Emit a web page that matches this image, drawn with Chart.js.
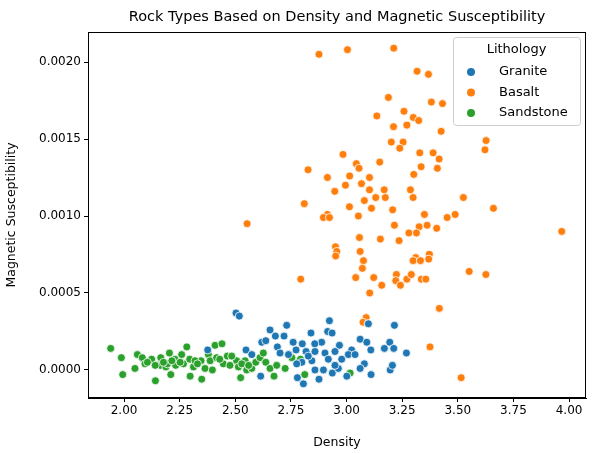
<!DOCTYPE html>
<html><head><meta charset="utf-8">
<script src="https://cdn.jsdelivr.net/npm/chart.js@4/dist/chart.umd.min.js"></script>
<style>html,body{margin:0;padding:0;background:#fff}#c{display:block}</style>
</head><body>
<canvas id="c" width="594" height="454"></canvas>
<script>
const seriesNames = ["Granite","Basalt","Sandstone"];
const seriesColors = ["#1f77b4","#ff7f0e","#2ca02c"];
const graniteX = [2.503,2.518,2.656,2.731,2.680,2.719,2.619,2.637,2.548,2.689,2.760,2.801,2.840,2.888,2.923,2.915,2.935,2.857,2.968,3.098,3.215,3.061,3.091,3.109,3.194,3.170,3.212,3.269,3.023,2.773,2.818,2.858,2.903,2.948,3.008,3.038,2.978,2.844,2.799,2.776,2.858,2.896,2.936,2.963,3.001,3.080,3.061,3.110,3.196,3.206,2.779,2.806,2.876,2.614,2.701,2.739,2.574,2.948,2.828,2.918,2.376];
const graniteY = [0.00037,0.00035,0.00026,0.00029,0.00022,0.00022,0.00018,0.00019,0.00013,0.00015,0.00018,0.00017,0.00024,0.00018,0.00032,0.00025,0.00024,0.00017,0.00016,0.00030,0.00029,0.00020,0.00018,0.00013,0.00018,0.00014,0.00014,0.00011,0.00013,0.00013,0.00012,0.00012,0.00011,0.00012,0.00010,0.00010,0.00007,0.00006,0.00005,0.00004,0.00000,0.00000,-0.00002,0.00001,-0.00004,0.00004,0.00001,-0.00003,0.00000,0.00003,-0.00005,-0.00009,-0.00006,-0.00004,0.00011,0.00010,0.00010,0.00003,0.00009,0.00007,0.00013];
const basaltX = [2.876,3.004,3.212,3.317,3.368,3.188,3.381,3.431,3.136,3.258,3.300,3.324,3.211,3.271,3.425,3.627,3.622,3.201,3.254,3.239,2.984,3.329,3.389,3.416,3.044,3.056,3.149,3.335,3.408,2.827,3.302,2.914,3.014,3.103,3.067,2.995,2.947,3.103,3.169,3.287,3.131,3.174,3.299,3.080,3.525,2.810,3.013,3.112,3.207,3.660,2.914,2.896,2.923,3.053,3.350,3.488,3.452,2.553,3.215,3.326,3.362,3.405,3.280,3.314,3.967,3.058,3.152,3.236,2.950,2.956,2.951,3.061,3.076,3.071,3.311,3.299,3.332,3.372,3.369,3.551,3.626,2.794,3.041,3.122,3.224,3.221,3.271,3.291,3.336,3.356,3.158,3.242,3.104,3.417,3.088,3.074,3.097,3.375,3.515];
const basaltY = [0.00205,0.00208,0.00209,0.00194,0.00192,0.00177,0.00174,0.00173,0.00165,0.00168,0.00164,0.00162,0.00158,0.00159,0.00155,0.00149,0.00143,0.00148,0.00148,0.00144,0.00140,0.00141,0.00141,0.00137,0.00134,0.00131,0.00135,0.00132,0.00131,0.00130,0.00127,0.00125,0.00126,0.00125,0.00121,0.00120,0.00116,0.00117,0.00117,0.00117,0.00112,0.00112,0.00112,0.00110,0.00112,0.00108,0.00106,0.00105,0.00104,0.00105,0.00101,0.00099,0.00099,0.00100,0.00101,0.00101,0.00099,0.00095,0.00094,0.00093,0.00094,0.00092,0.00089,0.00089,0.00090,0.00086,0.00085,0.00084,0.00080,0.00077,0.00074,0.00077,0.00071,0.00066,0.00073,0.00071,0.00071,0.00075,0.00072,0.00064,0.00062,0.00059,0.00060,0.00060,0.00062,0.00058,0.00059,0.00062,0.00059,0.00059,0.00055,0.00055,0.00050,0.00040,0.00034,0.00031,0.00030,0.00015,-0.00005];
const sandstoneX = [1.940,1.988,1.994,2.049,2.060,2.082,2.094,2.124,2.141,2.165,2.163,2.188,2.204,2.195,2.210,2.229,2.232,2.259,2.267,2.282,2.295,2.297,2.312,2.349,2.346,2.364,2.379,2.387,2.397,2.409,2.416,2.440,2.446,2.464,2.476,2.506,2.514,2.524,2.544,2.551,2.574,2.592,2.611,2.626,2.637,2.656,2.674,2.686,2.701,2.724,2.739,2.754,2.793,2.812,3.016,2.177,2.252,2.319,2.484,2.529,2.105,2.140,2.215,2.330,2.430,2.560];
const sandstoneY = [0.00014,0.00008,-0.00003,0.00001,0.00010,0.00008,0.00004,0.00007,-0.00007,0.00008,0.00003,0.00002,0.00011,0.00004,-0.00003,0.00007,0.00003,0.00010,0.00004,0.00015,0.00007,-0.00004,0.00002,-0.00006,0.00006,0.00001,0.00010,0.00006,0.00000,0.00016,0.00008,0.00017,0.00004,0.00009,0.00003,0.00006,0.00002,-0.00005,0.00006,0.00000,0.00001,0.00005,0.00008,0.00011,0.00005,0.00001,-0.00004,0.00003,0.00011,0.00001,0.00010,0.00008,0.00007,-0.00003,-0.00002,0.00005,0.00005,0.00006,0.00009,0.00004,0.00005,0.00003,0.00006,0.00004,0.00007,0.00003];
const xTicks = [2.00,2.25,2.50,2.75,3.00,3.25,3.50,3.75,4.00];
const yTicks = [0.0000,0.0005,0.0010,0.0015,0.0020];

const xs=[graniteX,basaltX,sandstoneX], ys=[graniteY,basaltY,sandstoneY];
const datasets = seriesNames.map((n,i)=>({label:n,data:xs[i].map((x,k)=>({x:x,y:ys[i][k]})),
  backgroundColor:seriesColors[i],borderColor:'#fff',borderWidth:0.8,pointRadius:4,pointHoverRadius:4}));
const F='"DejaVu Sans", sans-serif';
const deco={id:'deco',afterDraw(ch){const c=ch.ctx,a=ch.chartArea;c.save();
 c.strokeStyle='#000';c.lineWidth=1;c.strokeRect(a.left+.5,a.top+.5,a.right-a.left-1,a.bottom-a.top-1);
 c.fillStyle='#000';c.font='14.5px '+F;c.textAlign='center';c.textBaseline='middle';
 c.fillText('Rock Types Based on Density and Magnetic Susceptibility',(a.left+a.right)/2,17);
 const bx=453,by=37,bw=127,bh=88;c.fillStyle='rgba(255,255,255,0.8)';c.strokeStyle='#ccc';c.lineWidth=1;
 c.beginPath();c.roundRect(bx+.5,by+.5,bw,bh,3);c.fill();c.stroke();
 c.fillStyle='#000';c.font='13px '+F;c.fillText('Lithology',bx+bw/2,by+13);
 c.textAlign='left';
 seriesNames.forEach((n,i)=>{const yy=by+35+i*20.5;c.fillStyle=seriesColors[i];c.beginPath();c.arc(bx+12+6,yy,4,0,7);c.fill();
  c.fillStyle='#000';c.fillText(n,bx+46,yy);});
 c.restore();}};
const grid={display:true,drawOnChartArea:false,drawTicks:true,tickLength:4,color:'#000'};
new Chart(document.getElementById('c'),{type:'scatter',data:{datasets},plugins:[deco],
 options:{responsive:false,animation:false,layout:{padding:{top:32,right:8,left:0,bottom:0}},
 plugins:{legend:{display:false},tooltip:{enabled:false}},
 scales:{
  x:{type:'linear',min:1.838,max:4.076,afterFit(s){s.height=56},
   afterBuildTicks(s){s.ticks=xTicks.map(v=>({value:v}))},
   grid:grid,border:{color:'#000'},
   ticks:{color:'#000',font:{family:F,size:12},callback:v=>v.toFixed(2),maxRotation:0,padding:2},
   title:{display:true,text:'Density',color:'#000',font:{family:F,size:12.5},padding:{top:0}}},
  y:{type:'linear',min:-0.000182,max:0.002195,afterFit(s){s.width=88},
   afterBuildTicks(s){s.ticks=yTicks.map(v=>({value:v}))},
   grid:grid,border:{color:'#000'},
   ticks:{color:'#000',font:{family:F,size:12},callback:v=>v.toFixed(4),padding:3},
   title:{display:true,text:'Magnetic Susceptibility',color:'#000',font:{family:F,size:12.5},padding:{bottom:2}}}
 }}});
</script></body></html>
